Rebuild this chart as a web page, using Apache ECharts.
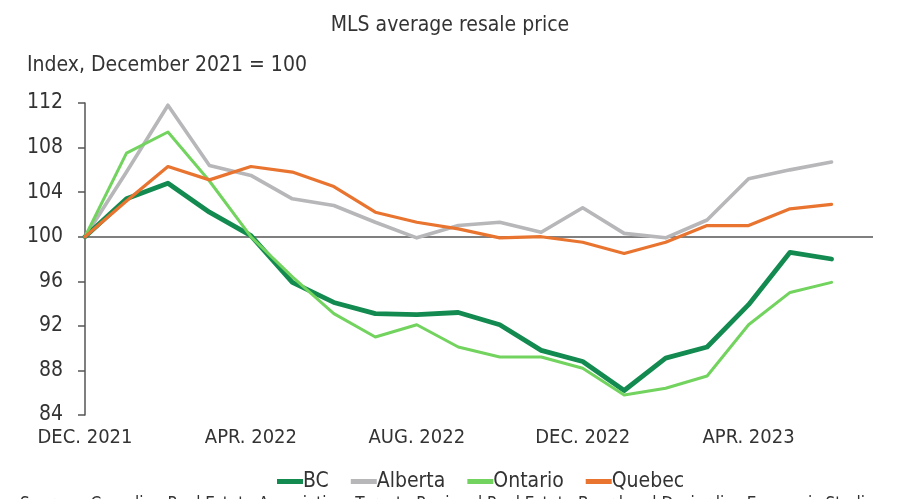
<!DOCTYPE html>
<html>
<head>
<meta charset="utf-8">
<script src="https://cdn.jsdelivr.net/npm/echarts@6/dist/echarts.min.js"></script>
<style>html,body{margin:0;padding:0;background:#fff;}#c{width:900px;height:499px;}</style>
</head>
<body>
<div id="c"></div>
<script>
const categories = ['DEC. 2021','JAN. 2022','FEB. 2022','MAR. 2022','APR. 2022','MAY 2022','JUN. 2022','JUL. 2022','AUG. 2022','SEP. 2022','OCT. 2022','NOV. 2022','DEC. 2022','JAN. 2023','FEB. 2023','MAR. 2023','APR. 2023','MAY 2023','JUN. 2023','JUL. 2023'];
const bc      = [100, 103.4, 104.8, 102.2, 100.1, 95.9, 94.1, 93.1, 93.0, 93.2, 92.1, 89.8, 88.8, 86.2, 89.1, 90.1, 93.9, 98.6, 98.0];
const alberta = [100, 105.8, 111.8, 106.4, 105.5, 103.4, 102.8, 101.3, 99.9, 101.0, 101.3, 100.4, 102.6, 100.3, 99.9, 101.5, 105.2, 106.0, 106.7];
const ontario = [100, 107.5, 109.4, 105.0, 100.0, 96.4, 93.1, 91.0, 92.1, 90.1, 89.2, 89.2, 88.2, 85.8, 86.4, 87.5, 92.1, 95.0, 95.9];
const quebec  = [100, 103.2, 106.3, 105.1, 106.3, 105.8, 104.5, 102.2, 101.3, 100.7, 99.9, 100.0, 99.5, 98.5, 99.5, 101.0, 101.0, 102.5, 102.9];
const yTicks = {min: 84, max: 112, interval: 4};
const seriesNames = ['BC','Alberta','Ontario','Quebec'];
const sourceText = 'Sources: Canadian Real Estate Association, Toronto Regional Real Estate Board and Desjardins Economic Studies';

const FONT = "'Liberation Sans Narrow', 'DejaVu Sans Condensed', sans-serif";
const colors = {BC:'#128a50', Alberta:'#b7b7ba', Ontario:'#72d35e', Quebec:'#e8742f'};
const widths = {BC:4.8, Alberta:3.6, Ontario:3, Quebec:3.2};
const dataMap = {BC: bc, Alberta: alberta, Ontario: ontario, Quebec: quebec};
const zMap = {BC:3, Alberta:2, Ontario:4, Quebec:5};

const chart = echarts.init(document.getElementById('c'), null, {renderer:'canvas'});
const series = seriesNames.map(n => ({
  name: n, type: 'line', data: dataMap[n], symbol: 'none', z: zMap[n],
  lineStyle: {color: colors[n], width: widths[n], join: 'round', cap: 'round'},
  itemStyle: {color: colors[n]}
}));
series[0].markLine = {
  silent: true, symbol: 'none', label: {show: false},
  lineStyle: {color: '#555', width: 1.5, type: 'solid'},
  data: [{yAxis: 100}], z: 1
};
chart.setOption({
  animation: false,
  backgroundColor: '#fff',
  title: [
    {text: 'MLS average resale price', left: 'center', top: 10,
     textStyle: {fontFamily: FONT, fontSize: 21, fontWeight: 'normal', color: '#333'}},
    {text: 'Index, December 2021 = 100', left: 22, top: 50,
     textStyle: {fontFamily: FONT, fontSize: 21, fontWeight: 'normal', color: '#333'}}
  ],
  graphic: [{
    type: 'text', left: 20, top: 496,
    style: {text: sourceText, font: "17px 'DejaVu Sans Condensed', sans-serif", fill: '#333'}
  }],
  grid: {left: 85, right: 27, top: 103, bottom: 84},
  legend: {
    data: seriesNames, top: 466, left: 272,
    itemWidth: 26, itemHeight: 5, itemGap: 22, icon: 'rect',
    textStyle: {fontFamily: FONT, fontSize: 21, color: '#333', padding: [0,0,0,-5]}
  },
  xAxis: {
    type: 'category', data: categories, boundaryGap: false,
    axisLine: {show: false}, axisTick: {show: false}, splitLine: {show: false},
    axisLabel: {interval: 3, margin: 13, fontFamily: FONT, fontSize: 20, color: '#333'}
  },
  yAxis: {
    type: 'value', min: yTicks.min, max: yTicks.max, interval: yTicks.interval,
    axisLine: {show: true, lineStyle: {color: '#555', width: 1.5}},
    axisTick: {show: true, length: 7, lineStyle: {color: '#555', width: 1.5}},
    splitLine: {show: false},
    axisLabel: {margin: 22, fontFamily: FONT, fontSize: 21, color: '#333'}
  },
  series: series
});
</script>
</body>
</html>
